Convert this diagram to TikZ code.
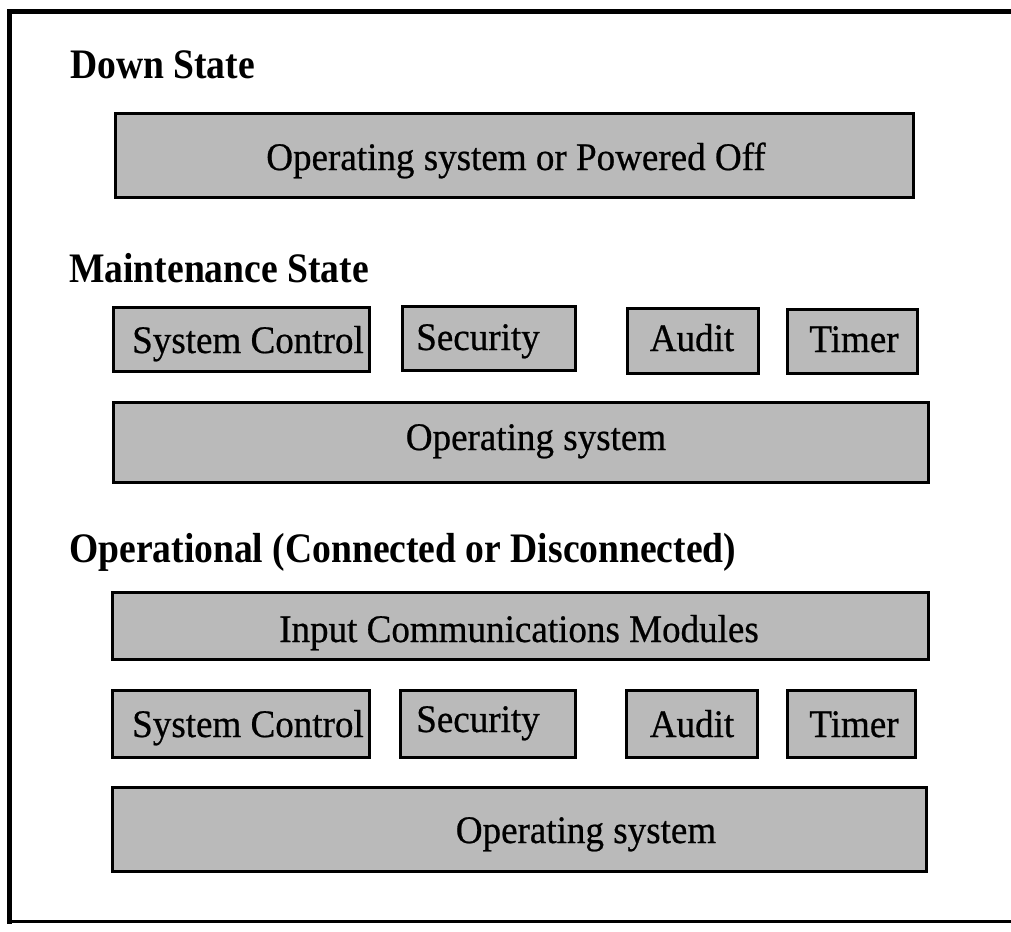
\documentclass[tikz,border=0pt]{standalone}
\usepackage{fontspec}
\setmainfont{Liberation Serif}
\newfontfamily\headfont{Liberation Serif}[FakeStretch=0.895]
\newfontfamily\boxfont{Liberation Serif}[FakeStretch=0.95,FakeBold=0.6]
\begin{document}
\begin{tikzpicture}[x=1pt,y=-1pt,
  box/.style={draw=black, line width=3pt, fill=black!27, inner sep=0pt},
  boxtext/.style={anchor=base, inner sep=0pt, font=\boxfont\fontsize{39}{42}\selectfont},
  heading/.style={anchor=base west, inner sep=0pt, font=\headfont\bfseries\fontsize{42}{46}\selectfont},
  frameline/.style={line width=#1, line cap=rect}]
\useasboundingbox (0,0) rectangle (1011,931);
\fill[white] (0,0) rectangle (1011,931);
% frame
\coordinate (ftr) at (1011,11.5);
\coordinate (ftl) at (9.5,11.5);
\coordinate (fbl) at (9.5,921.5);
\coordinate (fbr) at (1011,921.5);
\draw[frameline=4.5pt] (ftr) -- (ftl);
\draw[frameline=4.5pt] (ftl) -- (fbl);
\draw[line width=2.5pt] (fbl) -- (fbr);
% headings
\node[heading] (hdown) at (70,79) {Down State};
\node[heading] (hmaint) at (69,282) {Maintenance State};
\node[heading] (hop) at (69,562) {Operational (Connected or Disconnected)};
% down state
\node[box, minimum width=798pt, minimum height=83pt] (dbox) at (514,155.5) {};
\node[boxtext] (dtxt) at (516,170) {Operating system or Powered Off};
% maintenance
\node[box, minimum width=256pt, minimum height=64pt] (msc) at (241,339) {};
\node[boxtext] (msct) at (248,353) {System Control};
\node[box, minimum width=173pt, minimum height=64pt] (msec) at (488.5,338) {};
\node[boxtext] (msect) at (478,350) {Security};
\node[box, minimum width=131pt, minimum height=65pt] (maud) at (692.5,340.5) {};
\node[boxtext] (maudt) at (692,351) {Audit};
\node[box, minimum width=130pt, minimum height=64pt] (mtim) at (852,341) {};
\node[boxtext] (mtimt) at (854,352) {Timer};
\node[box, minimum width=815pt, minimum height=80pt] (mos) at (520.5,442) {};
\node[boxtext] (most) at (536,450) {Operating system};
% operational
\node[box, minimum width=816pt, minimum height=67pt] (icm) at (520,625.5) {};
\node[boxtext] (icmt) at (519,642) {Input Communications Modules};
\node[box, minimum width=257pt, minimum height=67pt] (osc) at (240.5,723.5) {};
\node[boxtext] (osct) at (248,737) {System Control};
\node[box, minimum width=175pt, minimum height=67pt] (osec) at (487.5,723.5) {};
\node[boxtext] (osect) at (478,732) {Security};
\node[box, minimum width=131pt, minimum height=67pt] (oaud) at (691.5,723.5) {};
\node[boxtext] (oaudt) at (692,737) {Audit};
\node[box, minimum width=128pt, minimum height=67pt] (otim) at (851,723.5) {};
\node[boxtext] (otimt) at (854,737) {Timer};
\node[box, minimum width=814pt, minimum height=84pt] (oos) at (519,829) {};
\node[boxtext] (oost) at (586,843) {Operating system};
\end{tikzpicture}
\end{document}
